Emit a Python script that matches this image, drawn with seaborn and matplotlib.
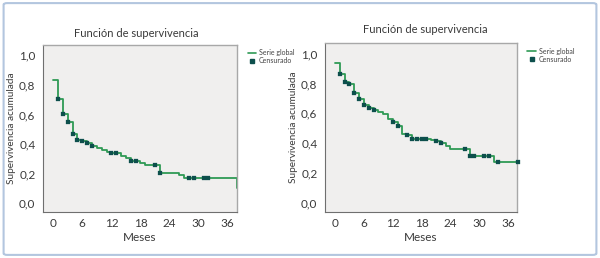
import numpy as np
import pandas as pd
import seaborn as sns
import matplotlib.pyplot as plt
import matplotlib
from matplotlib.lines import Line2D
from matplotlib.patches import FancyBboxPatch

sns.set_style('white')
matplotlib.rcParams['font.family'] = ['Lato', 'DejaVu Sans']

# curva izquierda
meses_izq = [0, 1, 2, 3, 4, 5, 6, 7, 8, 9, 10, 11, 12, 13, 14, 15, 16, 17, 18, 19, 20, 21, 22, 23, 24, 25, 26, 27, 28, 29, 30, 31, 32, 33, 34, 35, 36, 37, 38]
surv_izq = [0.835, 0.705, 0.600, 0.550, 0.468, 0.430, 0.418, 0.406, 0.385, 0.372, 0.358, 0.347, 0.337, 0.337, 0.320, 0.305, 0.287, 0.287, 0.271, 0.255, 0.255, 0.255, 0.207, 0.207, 0.207, 0.207, 0.192, 0.167, 0.167, 0.167, 0.167, 0.167, 0.167, 0.167, 0.167, 0.167, 0.167, 0.167, 0.105]
cens_t_izq = [1, 2, 3, 4, 5, 6, 7, 8, 12, 13, 16, 17, 21, 22, 28, 29, 31, 32]
cens_s_izq = [0.705, 0.600, 0.550, 0.468, 0.430, 0.418, 0.406, 0.385, 0.337, 0.337, 0.287, 0.287, 0.255, 0.207, 0.167, 0.167, 0.167, 0.167]

# curva derecha
meses_der = [0, 1, 2, 3, 4, 5, 6, 7, 8, 9, 10, 11, 12, 13, 14, 15, 16, 17, 18, 19, 20, 21, 22, 23, 24, 25, 26, 27, 28, 29, 30, 31, 32, 33, 34, 35, 36, 37, 38]
surv_der = [0.937, 0.862, 0.812, 0.795, 0.733, 0.699, 0.656, 0.636, 0.622, 0.609, 0.593, 0.562, 0.544, 0.517, 0.465, 0.454, 0.431, 0.431, 0.431, 0.431, 0.420, 0.415, 0.400, 0.382, 0.360, 0.360, 0.360, 0.360, 0.312, 0.312, 0.312, 0.312, 0.312, 0.275, 0.275, 0.275, 0.275, 0.275, 0.275]
cens_t_der = [1, 2, 3, 4, 5, 6, 7, 8, 12, 13, 15, 16, 17, 18, 19, 21, 22, 27, 28, 29, 31, 32, 34, 38]
cens_s_der = [0.862, 0.812, 0.795, 0.733, 0.699, 0.656, 0.636, 0.622, 0.544, 0.517, 0.454, 0.431, 0.431, 0.431, 0.431, 0.415, 0.400, 0.360, 0.312, 0.312, 0.312, 0.312, 0.275, 0.275]

xticks = [0, 6, 12, 18, 24, 30, 36]
yticks = [0.0, 0.2, 0.4, 0.6, 0.8, 1.0]
ytick_labels = ['0,0', '0,2', '0,4', '0,6', '0,8', '1,0']

titulo = 'Función de supervivencia'
verde = '#2f9a55'
oscuro = '#0d4f4c'
txt = '#3a3a3a'

fig = plt.figure(figsize=(6, 2.58), dpi=100)
fig.patch.set_facecolor('white')
marco = FancyBboxPatch((0.006, 0.012), 0.988, 0.976, boxstyle='round,pad=0,rounding_size=0.006',
                       transform=fig.transFigure, fill=False, edgecolor='#b3c6df', linewidth=1.5)
fig.patches.append(marco)

ax1 = fig.add_axes([0.0717, 0.178, 0.3233, 0.648])
ax2 = fig.add_axes([0.5417, 0.178, 0.32, 0.655])

paneles = [(ax1, meses_izq, surv_izq, cens_t_izq, cens_s_izq, 0.227, 0.872),
           (ax2, meses_der, surv_der, cens_t_der, cens_s_der, 0.709, 0.887)]

for ax, t, s, ct, cs, tx, ty in paneles:
    ax.set_facecolor('#f0efee')
    df = pd.DataFrame({'t': t, 's': s})
    sns.lineplot(data=df, x='t', y='s', drawstyle='steps-post', color=verde, linewidth=1.3, ax=ax, clip_on=False)
    dc = pd.DataFrame({'t': ct, 's': cs})
    sns.scatterplot(data=dc, x='t', y='s', marker='s', color=oscuro, s=8, edgecolor=oscuro, linewidth=0.2, ax=ax, zorder=3, clip_on=False)
    ax.set_xlim(-2.1, 37.9)
    ax.set_ylim(-0.06, 1.07)
    ax.set_xticks(xticks)
    ax.set_yticks(yticks)
    ax.set_yticklabels(ytick_labels)
    ax.tick_params(axis='both', direction='out', length=2.5, width=0.7, color='#555555',
                   labelsize=8.5, labelcolor=txt, pad=2)
    ax.tick_params(axis='y', pad=3)
    for sp in ax.spines.values():
        sp.set_color('#a8a8a8')
        sp.set_linewidth(1.0)
    ax.spines['left'].set_color('#6f6f6f')
    ax.spines['bottom'].set_color('#6f6f6f')
    ax.spines['left'].set_linewidth(0.8)
    ax.spines['bottom'].set_linewidth(0.8)
    ax.set_xlabel('Meses', fontsize=8.5, color=txt, labelpad=2)
    ax.set_ylabel('Supervivencia acumulada', fontsize=7.2, color=txt, labelpad=2.5)
    fig.text(tx, ty, titulo, ha='center', va='center', fontsize=8, color=txt)
    handles = [Line2D([0], [0], color=verde, linewidth=1.2),
               Line2D([0], [0], color=oscuro, marker='s', markersize=3.5, linestyle='none')]
    ax.legend(handles, ['Serie global', 'Censurado'], loc='upper left', bbox_to_anchor=(1.04, 0.99),
              frameon=False, fontsize=5, handlelength=1.2, handletextpad=0.4, labelspacing=0.15,
              borderaxespad=0, labelcolor='#444444')

plt.savefig('out.png', dpi=100)
